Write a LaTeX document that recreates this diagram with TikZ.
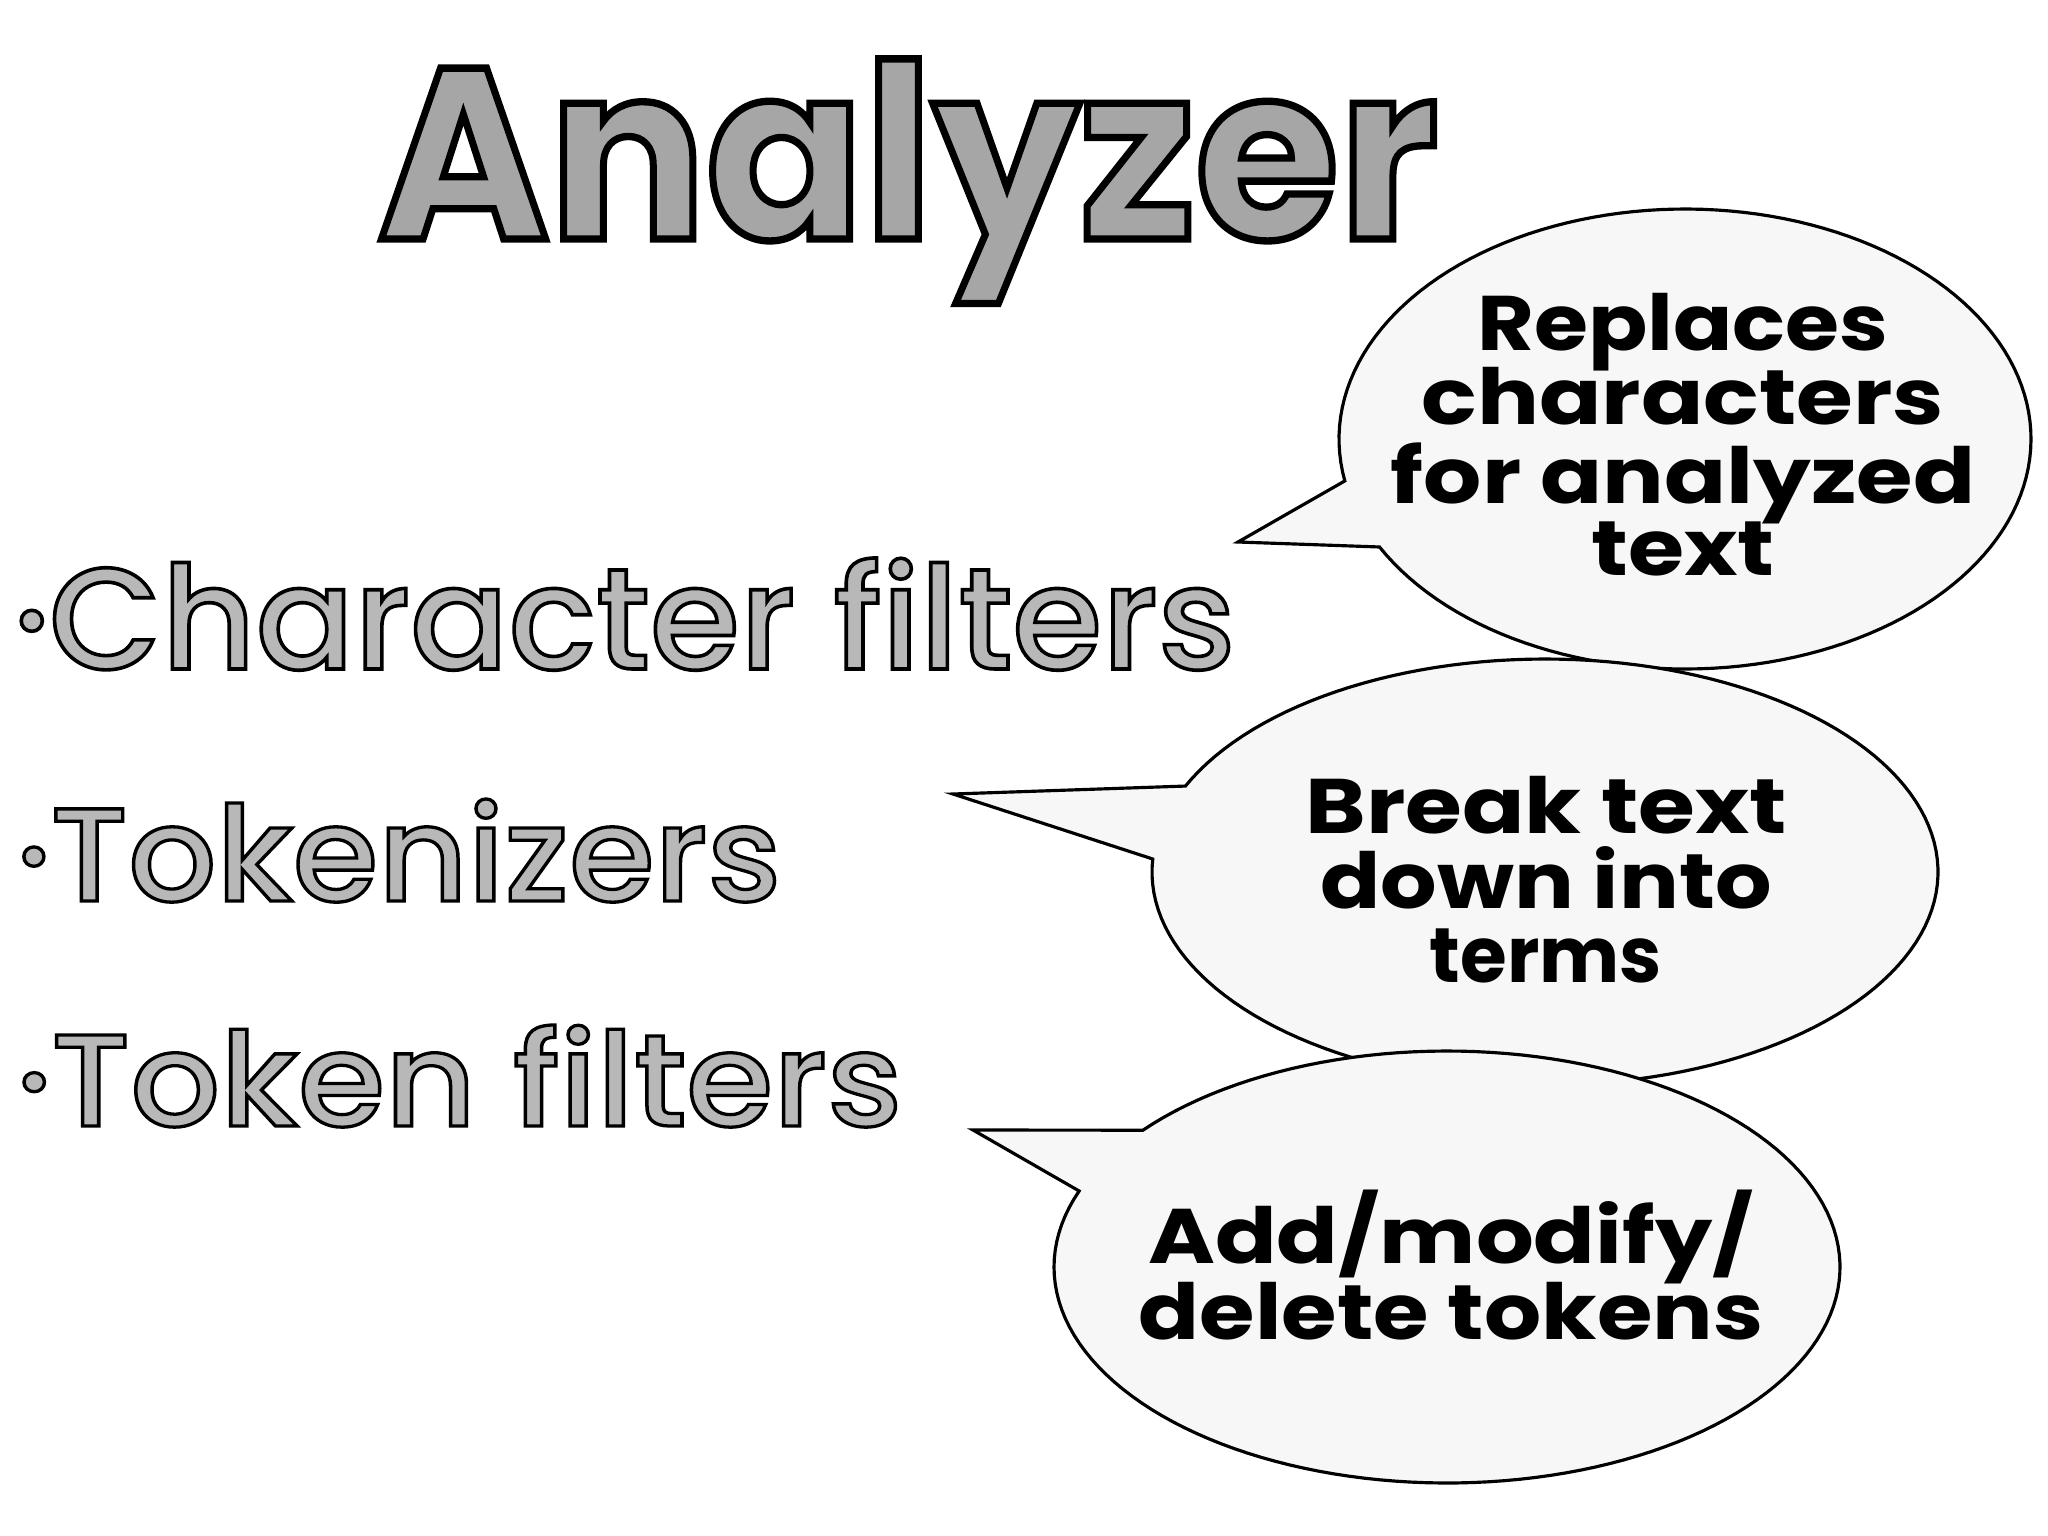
\documentclass[tikz,border=0pt]{standalone}
\usepackage{fontspec}
\usepackage{graphicx}
\newfontfamily\popfont{Poppins}
\newfontfamily\titleout{Poppins}[FakeBold=3]
\newfontfamily\itemout{Poppins Medium}[FakeBold=2.5]
\newcommand\bubline[2]{\resizebox{#1}{\height}{#2}}
% outlined text: grey fill, black stroke (fake-bold stroke)
\newcommand\sketchy[4]{\resizebox{#1}{#2}{\color{#3}\special{pdf:code 0 G}#4}}
\tikzset{
  bubble/.style={draw=black, line width=0.9pt, fill=black!3, line join=miter},
  bubtext/.style={inner sep=0pt, anchor=base, font=\popfont\bfseries\fontsize{22}{22}\selectfont},
  itemtext/.style={inner sep=0pt, anchor=base west},
}
\begin{document}
\begin{tikzpicture}[x=0.01cm,y=-0.01cm]
\fill[white] (0,0) rectangle (2048,1536);
\useasboundingbox (0,0) rectangle (2048,1536);

% title
\node[inner sep=0pt, anchor=base] (title) at (908,239)
  {\sketchy{10.6cm}{1.80cm}{black!35}{\titleout\bfseries\fontsize{72}{72}\selectfont Analyzer}};

% items
\node[itemtext] (cf) at (13,669)
  {\sketchy{12.21cm}{1.11cm}{black!28}{\itemout\fontsize{44}{44}\selectfont ·Character filters}};
\node[itemtext] (tk) at (16,901)
  {\sketchy{7.64cm}{1.02cm}{black!28}{\itemout\fontsize{44}{44}\selectfont ·Tokenizers}};
\node[itemtext] (tf) at (16,1126)
  {\sketchy{8.85cm}{1.01cm}{black!28}{\itemout\fontsize{44}{44}\selectfont ·Token filters}};

% bubbles
\coordinate (tip1) at (1238,542);
\coordinate (tip2) at (953,794);
\coordinate (tip3) at (973,1130);
\draw[bubble] plot[domain=169.5:512,samples=150] ({1685+346*cos(\x)},{439+230*sin(\x)}) -- (tip1) -- cycle;
\draw[bubble] plot[domain=203.8:543.5,samples=150] ({1545+393*cos(\x)},{872+213*sin(\x)}) -- (tip2) -- cycle;
\draw[bubble] plot[domain=219.3:560.6,samples=150] ({1447+393*cos(\x)},{1267+216*sin(\x)}) -- (tip3) -- cycle;

% bubble texts
\node[bubtext] (b1a) at (1683,350) {\bubline{4.11cm}{Replaces}};
\node[bubtext] (b1b) at (1683,424) {\bubline{5.22cm}{characters}};
\node[bubtext] (b1c) at (1683,503) {\bubline{5.84cm}{for analyzed}};
\node[bubtext] (b1d) at (1683,575) {\bubline{1.83cm}{text}};

\node[bubtext] (b2a) at (1546,833) {\bubline{4.81cm}{Break text}};
\node[bubtext] (b2b) at (1546,908) {\bubline{4.51cm}{down into}};
\node[bubtext] (b2c) at (1546,982) {\bubline{2.32cm}{terms}};

\node[bubtext] (b3a) at (1451,1263) {\bubline{6.05cm}{Add/modify/}};
\node[bubtext] (b3b) at (1451,1339) {\bubline{6.24cm}{delete tokens}};
\end{tikzpicture}
\end{document}
